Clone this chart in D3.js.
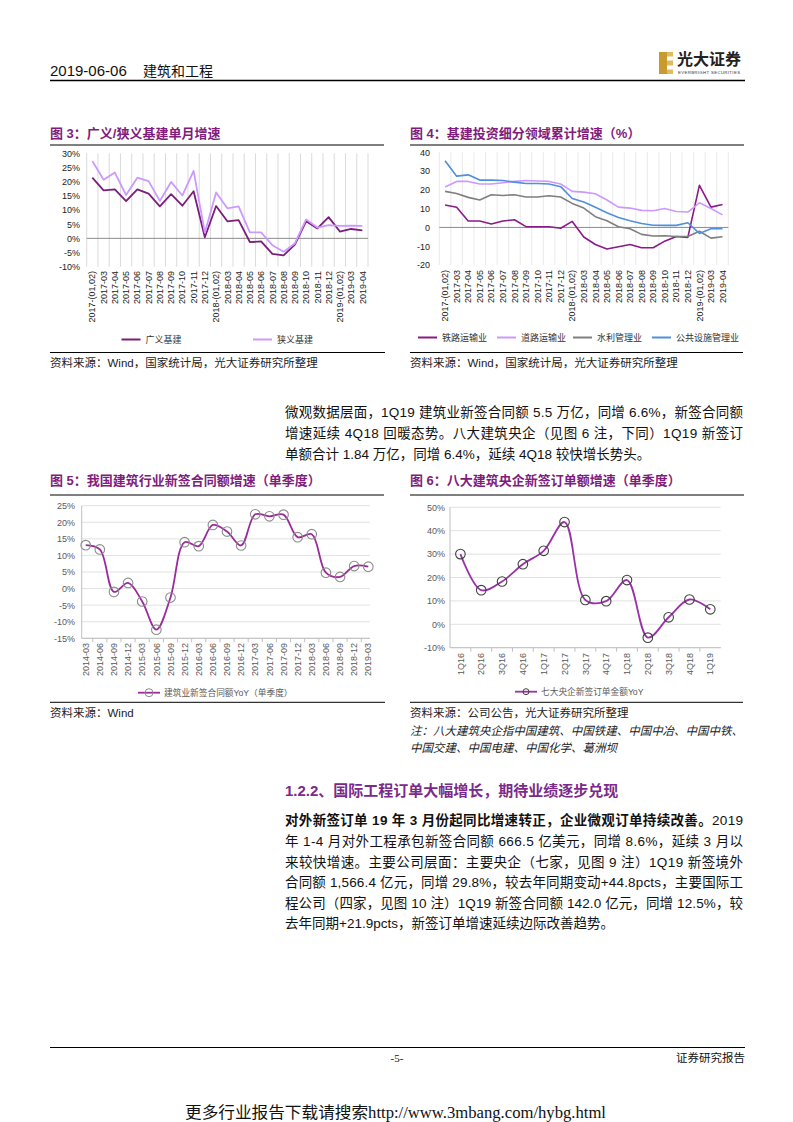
<!DOCTYPE html>
<html><head><meta charset="utf-8">
<script src="https://cdn.jsdelivr.net/npm/d3@7/dist/d3.min.js"></script>
<style>
body{margin:0;background:#fff}
svg{display:block;font-family:"Liberation Sans",Arial,"Noto Sans CJK SC",sans-serif}
</style>
</head><body>
<svg id="page" width="793" height="1122"></svg>
<script>
// ---------- DATA ----------
const months = ["2017-(01,02)","2017-03","2017-04","2017-05","2017-06","2017-07","2017-08","2017-09","2017-10","2017-11","2017-12",
  "2018-(01,02)","2018-03","2018-04","2018-05","2018-06","2018-07","2018-08","2018-09","2018-10","2018-11","2018-12",
  "2019-(01,02)","2019-03","2019-04"];
const broadInfra  = [21.4,16.9,17.3,13.1,17.3,15.8,11.3,15.6,11.5,16.6,0.4,11.4,6.0,6.4,-1.3,-1.1,-5.5,-6.0,-2.2,6.0,3.5,7.5,2.4,3.3,2.8];
const narrowInfra = [27.3,20.7,23.2,15.3,21.4,20.2,13.2,19.9,15.1,23.8,2.0,16.2,10.6,11.3,2.1,2.1,-2.4,-4.7,-1.8,6.7,3.8,4.7,4.4,4.5,4.4];
const pctTicks3 = [30,25,20,15,10,5,0,-5,-10];

const railway   = [11.9,10.7,3.4,3.4,1.8,3.4,4.1,0.4,0.4,0.4,-0.4,3.2,-5.1,-9.1,-11.5,-10.3,-9.1,-10.8,-10.8,-7.3,-4.8,-5.3,22.4,10.8,12.2];
const road      = [21.5,24.5,24.5,23.1,23.1,23.8,24.5,25.0,24.7,24.5,23.1,19.2,18.8,17.9,14.6,10.8,10.3,9.1,8.9,10.1,8.5,8.2,13.1,10.1,6.7];
const waterMgmt = [19.2,18.1,16.0,14.6,17.4,17.0,17.4,16.2,16.2,16.9,16.2,12.8,10.3,5.7,3.6,0.4,-0.7,-3.7,-4.6,-4.4,-4.8,-4.8,-2.0,-5.7,-5.0];
const publicFac = [35.5,27.3,28.0,25.2,25.2,25.0,24.1,23.4,23.4,23.1,21.7,15.4,13.5,10.7,7.8,5.3,3.6,2.1,1.2,1.1,1.1,2.5,-3.2,-0.7,-0.7];
const numTicks4 = [40,30,20,10,0,-10,-20];

const quarters5 = ["2014-03","2014-06","2014-09","2014-12","2015-03","2015-06","2015-09","2015-12","2016-03","2016-06","2016-09","2016-12",
  "2017-03","2017-06","2017-09","2017-12","2018-03","2018-06","2018-09","2018-12","2019-03"];
const newContracts = [13.1,11.8,-1.0,1.7,-3.9,-12.4,-2.7,14.0,12.8,19.2,17.2,13.0,22.4,21.8,22.3,15.5,16.4,4.8,3.5,6.8,6.6];
const pctTicks5 = [25,20,15,10,5,0,-5,-10,-15];

const quarters6 = ["1Q16","2Q16","3Q16","4Q16","1Q17","2Q17","3Q17","4Q17","1Q18","2Q18","3Q18","4Q18","1Q19"];
const soeOrders = [30.0,14.6,18.3,25.7,31.4,43.7,10.4,9.9,18.9,-5.7,3.0,10.6,6.4];
const pctTicks6 = [50,40,30,20,10,0,-10];

// ---------- PAGE ----------
const svg = d3.select("#page");
svg.append("rect").attr("width",793).attr("height",1122).attr("fill","#fff");
const TITLE = "#7F1C7D";
const CJK = '"Liberation Sans",Arial,"Noto Sans CJK SC",sans-serif';

function txt(x,y,s,size,opt={}){
  const t = svg.append("text").attr("x",x).attr("y",y).attr("font-size",size).text(s);
  Object.entries(opt).forEach(([k,v])=>t.attr(k,v));
  return t;
}

// header
txt(50,76,"2019-06-06",15,{fill:"#111"});
txt(143,76,"建筑和工程",14,{fill:"#111"});
svg.append("line").attr("x1",50).attr("x2",745).attr("y1",80.5).attr("y2",80.5).attr("stroke","#000").attr("stroke-width",1.3);
// logo
const lg = svg.append("g");
lg.append("rect").attr("x",659).attr("y",52).attr("width",8).attr("height",22).attr("fill","#C99A2E");
[[52,4.5],[60.5,5],[69.5,4.5]].forEach(([yy,h])=>lg.append("rect").attr("x",667).attr("y",yy).attr("width",6).attr("height",h).attr("fill","#E0BC5E"));
lg.append("text").attr("x",677).attr("y",65).attr("font-size",16).attr("font-weight",700).attr("fill","#222")
  .attr("font-family",'"Noto Sans CJK SC",serif').attr("textLength",64).text("光大证券");
lg.append("text").attr("x",678).attr("y",73.5).attr("font-size",4.3).attr("fill","#333").attr("textLength",62).text("EVERBRIGHT SECURITIES");

function chartTitle(x,y,s,ruleY){
  txt(x,y,s,13,{fill:TITLE,"font-weight":700});
  svg.append("line").attr("x1",x).attr("x2",x+334).attr("y1",ruleY).attr("y2",ruleY).attr("stroke","#000").attr("stroke-width",1);
}
function rule(x1,x2,y){ svg.append("line").attr("x1",x1).attr("x2",x2).attr("y1",y).attr("y2",y).attr("stroke","#000").attr("stroke-width",1); }

// ---------- monthly charts (3,4) ----------
function monthlyChart(o){
  const x = d3.scaleBand().domain(months).range([o.left,o.right]);
  const y = d3.scaleLinear().domain(o.domain).range([o.bottom,o.top]);
  const g = svg.append("g");
  const bounds = months.map(c=>x(c)).concat([o.right]);
  g.selectAll(null).data(bounds).join("line")
    .attr("x1",d=>d).attr("x2",d=>d).attr("y1",o.top).attr("y2",o.bottom)
    .attr("stroke",o.gridColor).attr("stroke-width",0.8);
  g.append("line").attr("x1",o.left).attr("x2",o.right).attr("y1",y(0)).attr("y2",y(0)).attr("stroke","#8c8c8c").attr("stroke-width",1);
  const ya = g.append("g").attr("transform",`translate(${o.labelRight},0)`)
    .call(d3.axisLeft(y).tickValues(o.ticks).tickSize(0).tickPadding(0).tickFormat(o.fmt));
  ya.attr("font-family",CJK).attr("font-size",9);
  ya.select(".domain").remove();
  ya.selectAll("text").attr("fill","#222");
  g.selectAll(null).data(months).join("text")
    .attr("transform",d=>`translate(${x(d)+x.bandwidth()/2},${o.labelTop}) rotate(-90)`)
    .attr("text-anchor","end").attr("dy","0.35em").attr("font-size",9).attr("fill","#222").text(d=>d);
  const line = d3.line().x((v,i)=>x(months[i])+x.bandwidth()/2).y(v=>y(v));
  o.series.forEach(s=>g.append("path").datum(s.values).attr("d",line).attr("fill","none")
    .attr("stroke",s.color).attr("stroke-width",s.width).attr("stroke-linejoin","round"));
  o.series.forEach(s=>{
    g.append("line").attr("x1",s.lx).attr("x2",s.lx+19).attr("y1",o.legendY).attr("y2",o.legendY).attr("stroke",s.color).attr("stroke-width",2);
    g.append("text").attr("x",s.lx+24).attr("y",o.legendY).attr("dy","0.35em").attr("font-size",9).attr("fill","#333").text(s.name);
  });
}

chartTitle(50,137.5,"图 3：广义/狭义基建单月增速",145);
monthlyChart({left:86.7,right:368,top:153.3,bottom:266.7,domain:[-10,30],ticks:pctTicks3,fmt:d=>d+"%",
  labelRight:80,labelTop:271,gridColor:"#d0d0d0",legendY:339.5,
  series:[{name:"广义基建",values:broadInfra,color:"#7B1E7A",width:1.8,lx:121.5},
          {name:"狭义基建",values:narrowInfra,color:"#CC99FF",width:1.8,lx:253}]});
rule(50,385,352.5);
txt(50,366.5,"资料来源：Wind，国家统计局，光大证券研究所整理",11.5,{fill:"#222"});

chartTitle(410,137.5,"图 4：基建投资细分领域累计增速（%）",145);
monthlyChart({left:439.3,right:728.3,top:152.3,bottom:265,domain:[-20,40],ticks:numTicks4,fmt:d=>d,
  labelRight:430,labelTop:270,gridColor:"#e3e3e3",legendY:337.5,
  series:[{name:"铁路运输业",values:railway,color:"#8B1A89",width:1.6,lx:418},
          {name:"道路运输业",values:road,color:"#CC99FF",width:1.6,lx:497},
          {name:"水利管理业",values:waterMgmt,color:"#7F7F7F",width:1.6,lx:573},
          {name:"公共设施管理业",values:publicFac,color:"#4F8FDB",width:1.6,lx:652}]});
rule(410,743,352.5);
txt(410,366.5,"资料来源：Wind，国家统计局，光大证券研究所整理",11.5,{fill:"#222"});

// ---------- paragraph 1 ----------
const P_X = 285, P_W = 458;
function para(lines, y0, step){
  lines.forEach((ln,i)=>{
    const t = svg.append("text").attr("x",P_X).attr("y",y0+i*step).attr("font-size",13.5).attr("fill","#111");
    ln.parts.forEach(p=>t.append("tspan").attr("font-weight",p.b?700:400).text(p.t));
    if(ln.justify) t.attr("textLength",P_W).attr("lengthAdjust","spacing");
  });
}
para([
  {parts:[{t:"微观数据层面，1Q19 建筑业新签合同额 5.5 万亿，同增 6.6%，新签合同额"}],justify:true},
  {parts:[{t:"增速延续 4Q18 回暖态势。八大建筑央企（见图 6 注，下同）1Q19 新签订"}],justify:true},
  {parts:[{t:"单额合计 1.84 万亿，同增 6.4%，延续 4Q18 较快增长势头。"}],justify:false}
],416.5,21);

// ---------- quarterly charts (5,6) ----------
function quarterChart(o){
  const x = d3.scalePoint().domain(o.cats).range([o.px0,o.px1]).padding(o.pad);
  const y = d3.scaleLinear().domain(o.domain).range([o.bottom,o.top]);
  const g = svg.append("g");
  g.selectAll(null).data(o.ticks).join("line")
    .attr("x1",o.left).attr("x2",o.right).attr("y1",d=>y(d)).attr("y2",d=>y(d))
    .attr("stroke","#d9d9d9").attr("stroke-width",0.8);
  g.append("line").attr("x1",o.left).attr("x2",o.left).attr("y1",o.top).attr("y2",o.bottom).attr("stroke","#bfbfbf");
  g.append("line").attr("x1",o.left).attr("x2",o.right).attr("y1",o.bottom).attr("y2",o.bottom).attr("stroke","#bfbfbf");
  const step = x.step();
  const tks = o.cats.map(c=>x(c)+step/2).filter(v=>v<o.right-1);
  g.selectAll(null).data(tks).join("line").attr("x1",d=>d).attr("x2",d=>d).attr("y1",o.bottom).attr("y2",o.bottom+4).attr("stroke","#bfbfbf");
  const ya = g.append("g").attr("transform",`translate(${o.labelRight},0)`)
    .call(d3.axisLeft(y).tickValues(o.ticks).tickSize(0).tickPadding(0).tickFormat(d=>d+"%"));
  ya.attr("font-family",CJK).attr("font-size",9);
  ya.select(".domain").remove();
  ya.selectAll("text").attr("fill","#595959");
  g.selectAll(null).data(o.cats).join("text")
    .attr("transform",d=>`translate(${x(d)},${o.labelTop}) rotate(-90)`)
    .attr("text-anchor","end").attr("dy","0.35em").attr("font-size",9).attr("fill","#595959").text(d=>d);
  const line = d3.line().curve(d3.curveCatmullRom.alpha(0.5)).x((v,i)=>x(o.cats[i])).y(v=>y(v));
  g.append("path").datum(o.values).attr("d",line).attr("fill","none").attr("stroke",o.color).attr("stroke-width",1.8);
  g.selectAll(null).data(o.values).join("circle").attr("cx",(v,i)=>x(o.cats[i])).attr("cy",v=>y(v)).attr("r",4.8)
    .attr("fill","none").attr("stroke",o.marker).attr("stroke-width",1.1);
  // legend
  g.append("line").attr("x1",o.lx).attr("x2",o.lx+22).attr("y1",o.legendY).attr("y2",o.legendY).attr("stroke",o.color).attr("stroke-width",1.8);
  g.append("circle").attr("cx",o.lx+11).attr("cy",o.legendY).attr("r",o.legR).attr("fill","none").attr("stroke",o.marker).attr("stroke-width",1);
  g.append("text").attr("x",o.lx+26).attr("y",o.legendY).attr("dy","0.35em").attr("font-size",8.7).attr("fill","#595959").text(o.name);
}

chartTitle(50,484.5,"图 5：我国建筑行业新签合同额增速（单季度）",495);
quarterChart({cats:quarters5,values:newContracts,ticks:pctTicks5,domain:[-15,25],
  left:81.7,right:370,top:505.7,bottom:638.3,px0:85.7,px1:368.3,pad:0,
  labelRight:75,labelTop:643,color:"#9B2A9B",marker:"#8c8c8c",
  lx:138,legendY:692.7,legR:4,name:"建筑业新签合同额YoY（单季度）"});
rule(50,385,702.3);
txt(50,716.5,"资料来源：Wind",11.5,{fill:"#222"});

chartTitle(410,484.5,"图 6：八大建筑央企新签订单额增速（单季度）",495);
quarterChart({cats:quarters6,values:soeOrders,ticks:pctTicks6,domain:[-10,50],
  left:450,right:720.7,top:507.3,bottom:647.7,px0:450,px1:720.7,pad:0.5,
  labelRight:445,labelTop:653,color:"#9932A8",marker:"#404040",
  lx:515,legendY:691.7,legR:3,name:"七大央企新签订单金额YoY"});
rule(410,743,702.3);
txt(410,716.5,"资料来源：公司公告，光大证券研究所整理",11.5,{fill:"#222"});
txt(410,734.5,"注：八大建筑央企指中国建筑、中国铁建、中国中冶、中国中铁、",11.5,{fill:"#222","font-style":"italic",textLength:333,lengthAdjust:"spacing"});
txt(410,752,"中国交建、中国电建、中国化学、葛洲坝",11.5,{fill:"#222","font-style":"italic"});

// ---------- section 1.2.2 ----------
txt(285,796,"1.2.2、国际工程订单大幅增长，期待业绩逐步兑现",15,{fill:"#7B2A8A","font-weight":700});
para([
  {parts:[{t:"对外新签订单 19 年 3 月份起同比增速转正，企业微观订单持续改善。",b:true},{t:"2019"}],justify:true},
  {parts:[{t:"年 1-4 月对外工程承包新签合同额 666.5 亿美元，同增 8.6%，延续 3 月以"}],justify:true},
  {parts:[{t:"来较快增速。主要公司层面：主要央企（七家，见图 9 注）1Q19 新签境外"}],justify:true},
  {parts:[{t:"合同额 1,566.4 亿元，同增 29.8%，较去年同期变动+44.8pcts，主要国际工"}],justify:true},
  {parts:[{t:"程公司（四家，见图 10 注）1Q19 新签合同额 142.0 亿元，同增 12.5%，较"}],justify:true},
  {parts:[{t:"去年同期+21.9pcts，新签订单增速延续边际改善趋势。"}],justify:false}
],825.4,20.6);

// ---------- footer ----------
rule(50,745,1047.5);
txt(397,1062,"-5-",11,{"text-anchor":"middle","font-family":'"Liberation Serif",serif',fill:"#111"});
txt(745,1062,"证券研究报告",11.5,{"text-anchor":"end",fill:"#111"});
txt(185,1118,"更多行业报告下载请搜索http://www.3mbang.com/hybg.html",16,
  {"font-family":'"Liberation Serif","Noto Sans CJK SC",serif',fill:"#111",textLength:421,lengthAdjust:"spacingAndGlyphs"});
</script>
</body></html>
